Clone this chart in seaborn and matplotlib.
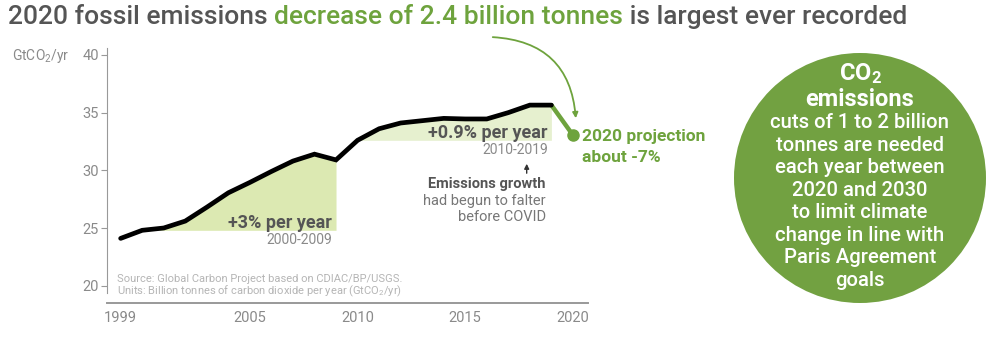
import matplotlib
matplotlib.use("Agg")
import matplotlib.pyplot as plt
import seaborn as sns
import pandas as pd
from matplotlib.patches import Ellipse, FancyArrowPatch

# ---- data ----
years = [1999, 2000, 2001, 2002, 2003, 2004, 2005, 2006, 2007, 2008, 2009,
         2010, 2011, 2012, 2013, 2014, 2015, 2016, 2017, 2018, 2019]
emissions = [24.1, 24.8, 25.0, 25.6, 26.8, 28.05, 28.95, 29.9, 30.8, 31.4, 30.9,
             32.6, 33.6, 34.1, 34.3, 34.5, 34.45, 34.45, 35.0, 35.65, 35.65]
proj_years = [2019, 2020]
proj_values = [35.65, 33.05]
period1 = (2000, 2009)
period2 = (2010, 2019)
yticks = [20, 25, 30, 35, 40]
xtick_labels = [1999, 2005, 2010, 2015, 2020]

GRAY = "#555555"
LGRAY = "#8a8a8a"
GREEN = "#6ea33d"
CIRCLE = "#72a141"

sns.set_theme(style="white")
plt.rcParams["font.family"] = ["Roboto", "DejaVu Sans"]
plt.rcParams["mathtext.default"] = "regular"

W, H = 1000, 339
fig = plt.figure(figsize=(W / 100, H / 100), dpi=100)


def fx(x):
    return x / W


def fy(y):
    return 1 - y / H


ax = fig.add_axes([fx(107.3), fy(303), fx(588 - 107.3), (303 - 48) / H])
df = pd.DataFrame({"year": years, "value": emissions})
sns.lineplot(data=df, x="year", y="value", ax=ax, color="black", lw=3.4,
             solid_joinstyle="miter", zorder=4)

# shaded growth periods
for (a, b), col in [(period1, "#dce9b2"), (period2, "#e6f0cf")]:
    sub = df[(df.year >= a) & (df.year <= b)]
    base = sub.value.iloc[0]
    ax.fill_between(sub.year, base, sub.value, where=sub.value >= base - 1e-9,
                    color=col, lw=0, zorder=1, interpolate=True)

# projection
sns.lineplot(x=proj_years, y=proj_values, ax=ax, color=GREEN, lw=3.2, zorder=3)
ax.plot(proj_years[-1:], proj_values[-1:], "o", color=GREEN, ms=8, zorder=5)

ax.set_xlim(1998.38, 2020.7)
ax.set_ylim(18.5, 40.6)
ax.set_yticks(yticks)
ax.set_yticklabels([str(v) for v in yticks])
ax.set_xticks(xtick_labels)
ax.set_xticklabels([str(v) for v in xtick_labels])
ax.set_xticks([1999, 2000], minor=True)
ax.tick_params(axis="x", which="major", length=0, labelsize=10.5,
               labelcolor=LGRAY, pad=6)
ax.tick_params(axis="x", which="minor", length=6, width=1, color="#999999",
               direction="out")
ax.tick_params(axis="y", length=4, width=0.8, color="#999999", labelsize=10.5,
               labelcolor=LGRAY, left=True, direction="out", pad=2)
ax.set_xlabel("")
ax.set_ylabel("")
for s in ["top", "right"]:
    ax.spines[s].set_visible(False)
ax.spines["left"].set_color("#999999")
ax.spines["left"].set_linewidth(0.8)
ax.spines["left"].set_bounds(19.4, 40.6)
ax.spines["bottom"].set_color("#999999")
ax.spines["bottom"].set_linewidth(1.4)
ax.patch.set_alpha(0)

# y unit label
fig.text(fx(12), fy(56), "GtCO$_2$/yr", fontsize=10, color=LGRAY, va="center")

# annotations
fig.text(fx(332), fy(223), "+3% per year", fontsize=13, fontweight="bold",
         color=GRAY, ha="right", va="center", zorder=6)
fig.text(fx(332), fy(240), "2000-2009", fontsize=10, color=LGRAY,
         ha="right", va="center")
fig.text(fx(548), fy(133), "+0.9% per year", fontsize=13, fontweight="bold",
         color=GRAY, ha="right", va="center", zorder=6)
fig.text(fx(548), fy(150), "2010-2019", fontsize=10, color=LGRAY,
         ha="right", va="center")
fig.text(fx(546), fy(184.5), "Emissions growth", fontsize=10.5,
         fontweight="bold", color=GRAY, ha="right", va="center")
fig.text(fx(546), fy(201), "had begun to falter", fontsize=10.5,
         color="#777777", ha="right", va="center")
fig.text(fx(546), fy(217), "before COVID", fontsize=10.5, color="#777777",
         ha="right", va="center")
fig.add_artist(FancyArrowPatch((fx(526.7), fy(176)), (fx(526.7), fy(161)),
                               transform=fig.transFigure, arrowstyle="-|>",
                               mutation_scale=7, color="#333333", lw=1))
fig.text(fx(117), fy(279.5), "Source: Global Carbon Project based on CDIAC/BP/USGS.",
         fontsize=8, color="#b5b5b5", va="center")
fig.text(fx(117), fy(291), "Units: Billion tonnes of carbon dioxide per year (GtCO$_2$/yr)",
         fontsize=8, color="#b5b5b5", va="center")

fig.text(fx(582), fy(136), "2020 projection", fontsize=12.5, fontweight="bold",
         color=GREEN, va="center")
fig.text(fx(582), fy(157), "about -7%", fontsize=12.5, fontweight="bold",
         color=GREEN, va="center")

# title
renderer = fig.canvas.get_renderer()
x0 = fx(8)
for txt, col in [("2020 fossil emissions ", GRAY),
                 ("decrease of 2.4 billion tonnes", GREEN),
                 (" is largest ever recorded", GRAY)]:
    t = fig.text(x0, fy(17), txt, fontsize=19, fontweight="medium", color=col,
                 va="center")
    bb = t.get_window_extent(renderer=renderer)
    x0 = bb.x1 / W

# curved arrow from title
fig.add_artist(FancyArrowPatch((fx(490), fy(37)), (fx(576), fy(121)),
                               transform=fig.transFigure,
                               connectionstyle="arc3,rad=-0.45",
                               arrowstyle="-|>", mutation_scale=8,
                               color=GREEN, lw=1.3))

# circle
fig.add_artist(Ellipse((fx(860), fy(178)), 2 * 126 / W, 2 * 125 / H,
                       transform=fig.transFigure, color=CIRCLE, lw=0))
fig.text(fx(860), fy(74), "CO$_2$", fontsize=17, fontweight="bold",
         color="white", ha="center", va="center")
fig.text(fx(860), fy(99), "emissions", fontsize=17, fontweight="bold",
         color="white", ha="center", va="center")
circle_lines = ["cuts of 1 to 2 billion", "tonnes are needed",
                "each year between", "2020 and 2030", "to limit climate",
                "change in line with", "Paris Agreement", "goals"]
for i, line in enumerate(circle_lines):
    fig.text(fx(860), fy(122.6 + i * 22.5), line, fontsize=14.6,
             fontweight="medium", color="white", ha="center", va="center")

fig.savefig("out.png", dpi=100)
